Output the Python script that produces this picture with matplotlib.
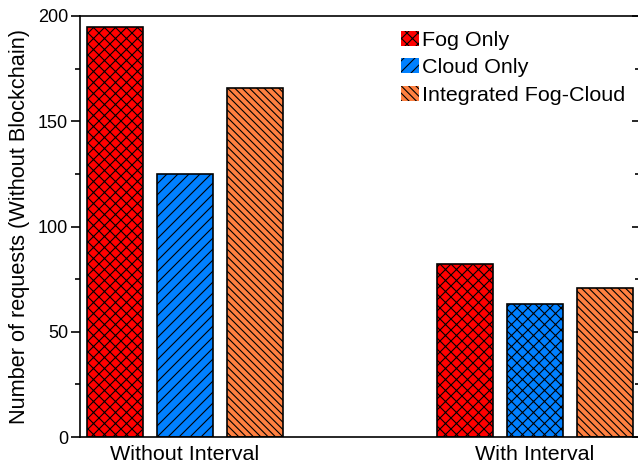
import matplotlib
matplotlib.use("Agg")
import matplotlib.pyplot as plt
from matplotlib.ticker import MultipleLocator
from matplotlib.patches import Patch

DPI = 132
def pt(px):
    return px * 72.0 / DPI

groups = ["Without Interval", "With Interval"]
series = ["Fog Only", "Cloud Only", "Integrated Fog-Cloud"]
fog_only = [195, 82]
cloud_only = [125, 63]
integrated = [166, 71]
colors = ["#FF0000", "#0080FF", "#FF8040"]
hatches_g1 = ["xxxx", "////", "\\" * 6]
hatches_g2 = ["xxxx", "xxxx", "\\" * 6]
legend_hatches = ["xxxx", "////", "\\" * 6]

plt.rcParams["font.family"] = ["Liberation Sans", "DejaVu Sans"]
plt.rcParams["hatch.linewidth"] = 0.6
plt.rcParams["hatch.color"] = "black"

fig = plt.figure(figsize=(638 / DPI, 465 / DPI), dpi=DPI)
W, H = 638, 465
ax = fig.add_axes([80 / W, 1 - 437 / H, 560 / W, 421 / H])

values = [fog_only, cloud_only, integrated]
group_centers = [0, 5]
offsets = [-1, 0, 1]
for si, (vals, col, off) in enumerate(zip(values, colors, offsets)):
    for gi, gc in enumerate(group_centers):
        h = hatches_g1[si] if gi == 0 else hatches_g2[si]
        ax.bar(gc + off, vals[gi], width=0.8, color=col, edgecolor="black",
               linewidth=0.9, hatch=h, zorder=2)

ax.set_xlim(-1.5, 6.5)
ax.set_ylim(0, 200)
ax.set_xticks(group_centers)
ax.set_xticklabels(groups, fontsize=pt(21.5))
ax.tick_params(axis="x", length=0, pad=pt(8))
ax.yaxis.set_major_locator(MultipleLocator(50))
ax.yaxis.set_minor_locator(MultipleLocator(25))
ax.tick_params(axis="y", which="major", direction="out", length=pt(9), width=0.9,
               labelsize=pt(18), pad=pt(3))
ax.tick_params(axis="y", which="minor", direction="out", length=pt(5), width=0.9)
for s in ax.spines.values():
    s.set_linewidth(0.9)

ax2 = ax.twinx()
ax2.set_ylim(0, 200)
ax2.yaxis.set_major_locator(MultipleLocator(50))
ax2.yaxis.set_minor_locator(MultipleLocator(25))
ax2.tick_params(axis="y", which="major", direction="in", length=pt(8), width=0.9, labelright=False)
ax2.tick_params(axis="y", which="minor", direction="in", length=pt(5), width=0.9)
for s in ax2.spines.values():
    s.set_visible(False)

ax.set_ylabel("Number of requests (Without Blockchain)", fontsize=pt(21.8))
ax.yaxis.set_label_coords(-0.089, 0.5)

handles = [Patch(facecolor=c, edgecolor="black", linewidth=0, hatch=h, label=l)
           for c, h, l in zip(colors, legend_hatches, series)]
leg = ax.legend(handles=handles, loc="upper left", bbox_to_anchor=(0.573, 0.965),
                frameon=False, fontsize=pt(21.5), borderpad=0, borderaxespad=0,
                handlelength=0.85, handleheight=0.7, handletextpad=0.12,
                labelspacing=0.4)

fig.savefig("out.png", dpi=DPI)
